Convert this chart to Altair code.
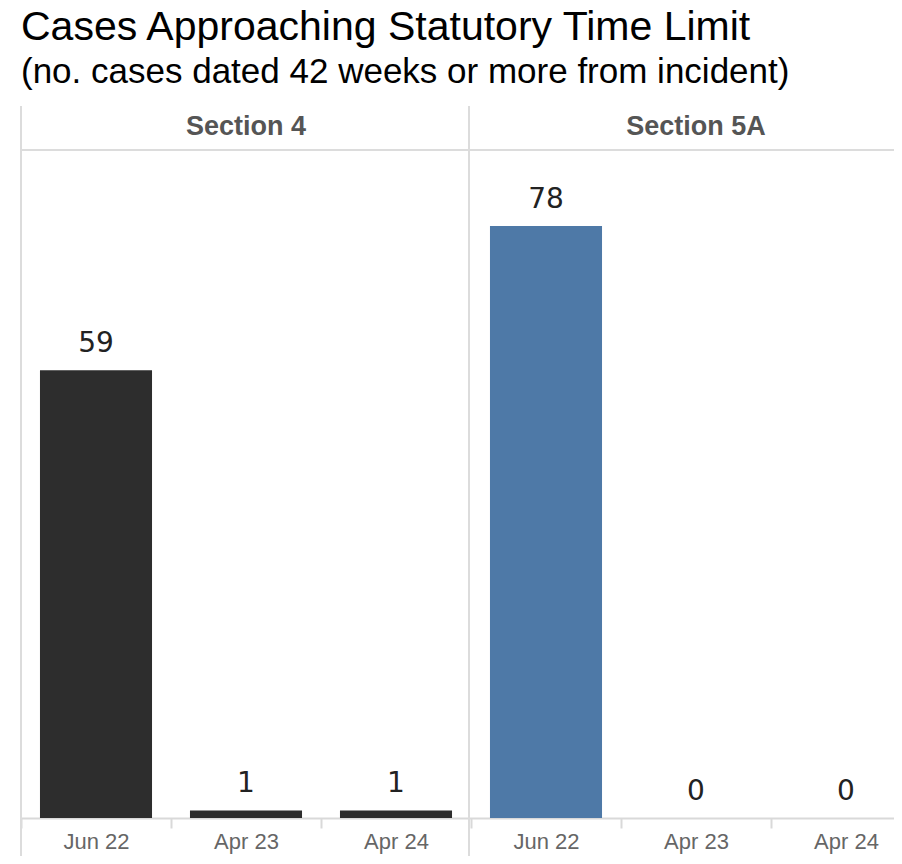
import altair as alt
import pandas as pd

# ---- data ----
sections = ["Section 4", "Section 4", "Section 4", "Section 5A", "Section 5A", "Section 5A"]
periods = ["Jun 22", "Apr 23", "Apr 24", "Jun 22", "Apr 23", "Apr 24"]
cases = [59, 1, 1, 78, 0, 0]
section_names = ["Section 4", "Section 5A"]
bar_colors = ["#2d2d2d", "#4e79a7"]
y_max = 93.8

df = pd.DataFrame({"section": sections, "period": periods, "cases": cases})
df["key"] = df["section"] + "|" + df["period"]
order = list(df["key"])

hdr = pd.DataFrame({"section": section_names,
                    "key": [s + "|Apr 23" for s in section_names]})
one = pd.DataFrame({"k": [0]})

xscale = alt.Scale(domain=order, range=[0, 900], paddingInner=0, paddingOuter=0)
xaxis = alt.Axis(labelExpr="split(datum.label, '|')[1]", labelAngle=0,
                 labelFont="Liberation Sans", labelFontSize=22, labelColor="#666666",
                 labelPadding=3, labelBaseline="top", tickBand="extent", tickSize=10,
                 tickColor="#d9d9d9", tickWidth=2, domainColor="#d9d9d9", domainWidth=2,
                 grid=False)
xenc = alt.X("key:N", scale=xscale, sort=order, title=None, axis=xaxis)
yenc = alt.Y("cases:Q", scale=alt.Scale(domain=[0, y_max], nice=False, zero=True), axis=None)

bars = alt.Chart(df).mark_bar(width=alt.RelativeBandSize(0.747)).encode(
    x=xenc, y=yenc,
    color=alt.Color("section:N", scale=alt.Scale(domain=section_names, range=bar_colors), legend=None),
)
labels = alt.Chart(df).mark_text(dy=-18, baseline="alphabetic", font="DejaVu Sans",
                                 fontSize=28, color="#222222").encode(
    x=xenc, y=yenc, text=alt.Text("cases:Q")
)
headers = alt.Chart(hdr).mark_text(font="Liberation Sans", fontSize=27, fontWeight="bold",
                                   color="#555555", baseline="middle").encode(
    x=xenc, y=alt.value(21), text="section:N"
)
hline = alt.Chart(one).mark_rule(color="#dcdcdc", strokeWidth=2).encode(
    x=alt.value(0), x2=alt.value(900), y=alt.value(44)
)
vline1 = alt.Chart(one).mark_rule(color="#dcdcdc", strokeWidth=2).encode(
    x=alt.value(0), y=alt.value(0), y2=alt.value(760)
)
vline2 = alt.Chart(one).mark_rule(color="#dcdcdc", strokeWidth=2).encode(
    x=alt.value(448), y=alt.value(0), y2=alt.value(760)
)

chart = alt.layer(vline1, vline2, hline, bars, labels, headers).properties(
    width=873, height=712,
    autosize=alt.AutoSizeParams(type="none"),
    padding={"left": 13, "top": 98, "right": 0, "bottom": 38},
    title=alt.TitleParams(
        text="Cases Approaching Statutory Time Limit",
        subtitle="(no. cases dated 42 weeks or more from incident)",
        anchor="start", frame="group", font="Liberation Sans", fontSize=41,
        fontWeight="normal", color="#000000",
        subtitleFont="Liberation Sans", subtitleFontSize=35, subtitleColor="#000000",
        subtitlePadding=6, offset=14,
    ),
).configure_view(stroke=None)

chart.save("out.html", embed_options={"renderer": "svg", "actions": False})
